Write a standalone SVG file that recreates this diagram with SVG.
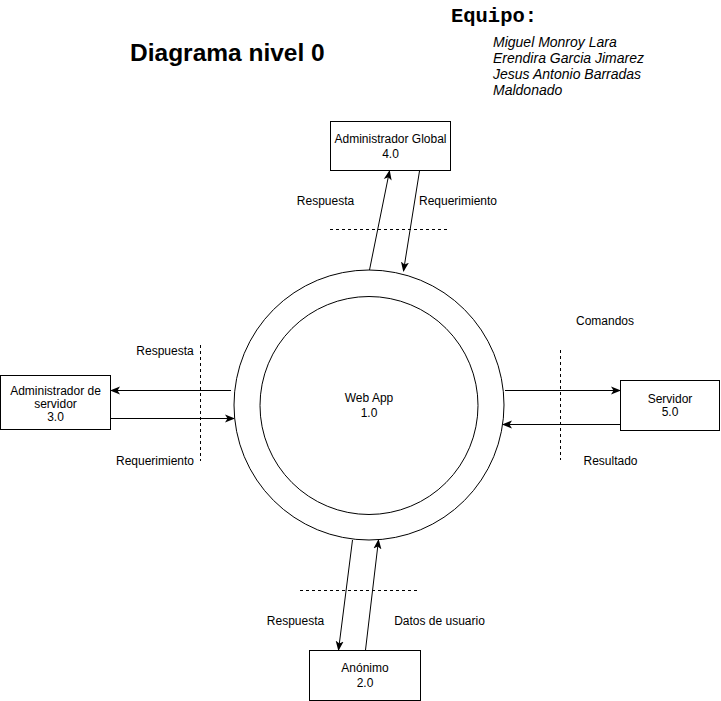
<svg xmlns="http://www.w3.org/2000/svg" width="721" height="701" viewBox="0 0 721 701">
<style>
text{font-family:"Liberation Sans",Arial,sans-serif;font-size:12px;fill:#000}
.c{text-anchor:middle}
.box{fill:#fff;stroke:#000;stroke-width:1}
.ln{fill:none;stroke:#000;stroke-width:1}
.dash{fill:none;stroke:#000;stroke-width:1;stroke-dasharray:3 3}
.nm{font-size:14px;font-style:italic}
</style>
<defs>
<marker id="ah" viewBox="0 0 10 10" refX="9" refY="5" markerWidth="10" markerHeight="10" markerUnits="userSpaceOnUse" orient="auto">
<path d="M0,1 L10,5 L0,9 L2.5,5 Z" fill="#000"/>
</marker>
</defs>
<rect width="721" height="701" fill="#fff"/>
<text x="130" y="61" style="font-size:24.5px;font-weight:bold">Diagrama nivel 0</text>
<text x="451" y="22" style="font-family:'Liberation Mono','Courier New',monospace;font-size:20.5px;font-weight:bold" textLength="86" lengthAdjust="spacing">Equipo:</text>
<text class="nm" x="493" y="47">Miguel Monroy Lara</text>
<text class="nm" x="493" y="63">Erendira Garcia Jimarez</text>
<text class="nm" x="493" y="79">Jesus Antonio Barradas</text>
<text class="nm" x="493" y="95">Maldonado</text>
<g id="webapp">
<circle cx="369" cy="405" r="135" class="box"/>
<circle cx="369" cy="405.5" r="109" class="box"/>
<text class="c" x="369" y="402">Web App</text>
<text class="c" x="369" y="417">1.0</text>
</g>
<g id="admin-global">
<rect x="330.5" y="121.5" width="120" height="49" class="box"/>
<text class="c" x="390.5" y="143">Administrador Global</text>
<text class="c" x="390.5" y="158">4.0</text>
</g>
<g id="admin-servidor">
<rect x="0.5" y="375.5" width="110" height="54" class="box"/>
<text class="c" x="55.5" y="395">Administrador de</text>
<text class="c" x="55.5" y="408">servidor</text>
<text class="c" x="55.5" y="421">3.0</text>
</g>
<g id="servidor">
<rect x="620.5" y="380.5" width="99" height="50" class="box"/>
<text class="c" x="670" y="403">Servidor</text>
<text class="c" x="670" y="416">5.0</text>
</g>
<g id="anonimo">
<rect x="309.5" y="650.5" width="111" height="50" class="box"/>
<text class="c" x="365" y="672">Anónimo</text>
<text class="c" x="365" y="687">2.0</text>
</g>
<g id="connectors">
<line x1="369.5" y1="270" x2="389.5" y2="171" class="ln" marker-end="url(#ah)"/>
<line x1="419.5" y1="171" x2="403.5" y2="271" class="ln" marker-end="url(#ah)"/>
<line x1="231" y1="390.5" x2="111" y2="390.5" class="ln" marker-end="url(#ah)"/>
<line x1="111" y1="418.5" x2="234" y2="418.5" class="ln" marker-end="url(#ah)"/>
<line x1="505" y1="390.5" x2="620" y2="390.5" class="ln" marker-end="url(#ah)"/>
<line x1="620" y1="424.5" x2="503" y2="424.5" class="ln" marker-end="url(#ah)"/>
<line x1="352.5" y1="540" x2="338.5" y2="650" class="ln" marker-end="url(#ah)"/>
<line x1="365.5" y1="650" x2="378.5" y2="540" class="ln" marker-end="url(#ah)"/>
<line x1="330" y1="229.5" x2="447" y2="229.5" class="dash"/>
<line x1="200.5" y1="345" x2="200.5" y2="461" class="dash"/>
<line x1="560.5" y1="350" x2="560.5" y2="460" class="dash"/>
<line x1="300" y1="590.5" x2="418" y2="590.5" class="dash"/>
</g>
<g id="labels">
<text class="c" x="325.5" y="205">Respuesta</text>
<text class="c" x="458" y="205">Requerimiento</text>
<text class="c" x="165" y="355">Respuesta</text>
<text class="c" x="155" y="465">Requerimiento</text>
<text class="c" x="605" y="325">Comandos</text>
<text class="c" x="610.5" y="465">Resultado</text>
<text class="c" x="295.5" y="625">Respuesta</text>
<text class="c" x="439.5" y="625">Datos de usuario</text>
</g>
</svg>
